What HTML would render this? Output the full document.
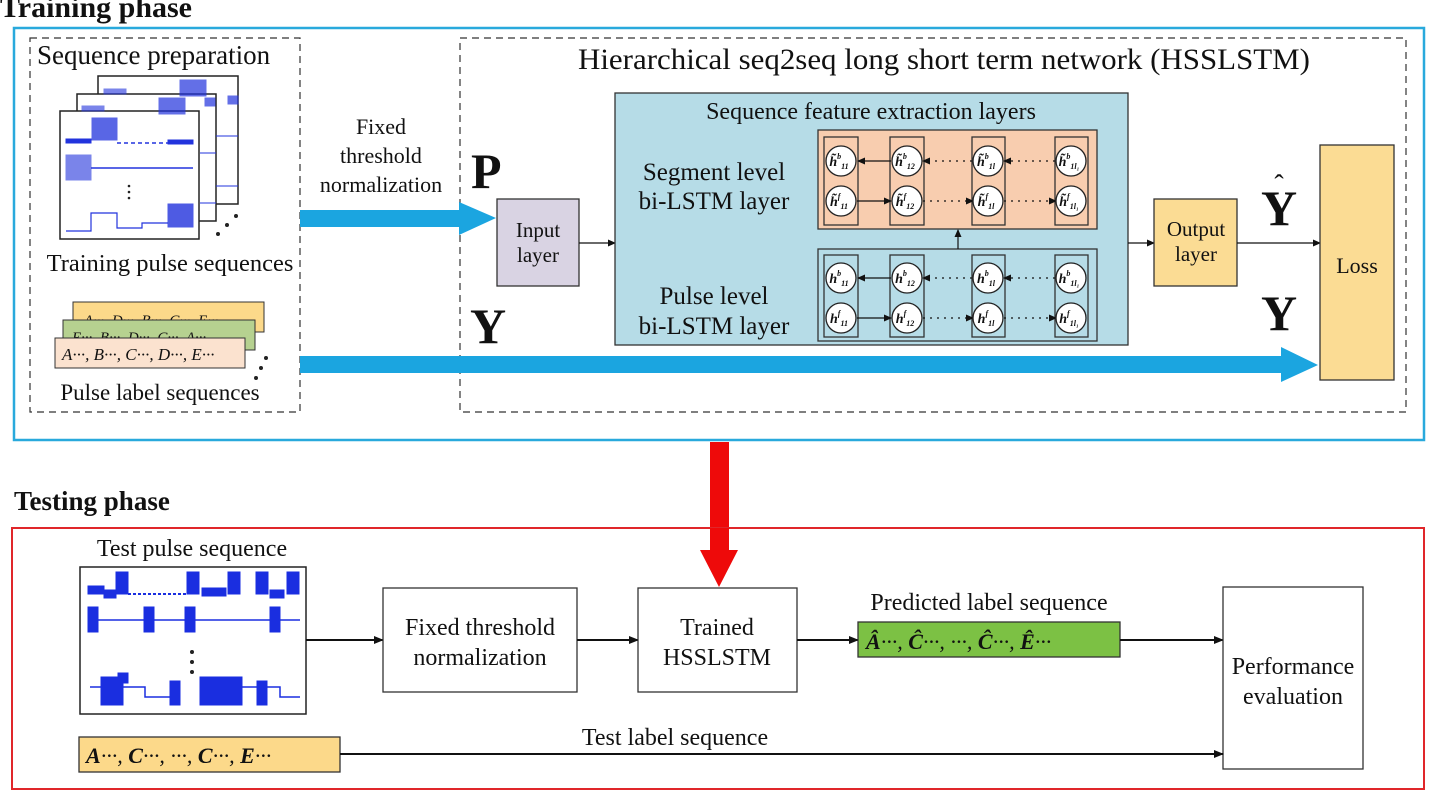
<!DOCTYPE html>
<html><head><meta charset="utf-8"><style>
html,body{margin:0;padding:0;background:#fff;width:1432px;height:796px;overflow:hidden}
svg{display:block}
text{font-family:"Liberation Serif",serif;fill:#111}
</style></head><body>
<svg width="1432" height="796" viewBox="0 0 1432 796" xmlns="http://www.w3.org/2000/svg">
<defs>
<marker id="ah" markerWidth="10" markerHeight="8" refX="9" refY="4" orient="auto" markerUnits="userSpaceOnUse"><path d="M0,0 L10,4 L0,8 z" fill="#111"/></marker>
<marker id="as" markerWidth="8" markerHeight="7" refX="7" refY="3.5" orient="auto" markerUnits="userSpaceOnUse"><path d="M0,0 L8,3.5 L0,7 z" fill="#111"/></marker>
</defs>

<!-- Training phase -->
<text x="0" y="17" font-size="30" font-weight="bold">Training phase</text>
<rect x="14" y="28" width="1410" height="412" fill="none" stroke="#29a9dc" stroke-width="2.5"/>
<rect x="30" y="38" width="270" height="374" fill="none" stroke="#333" stroke-width="1.2" stroke-dasharray="7,5"/>
<rect x="460" y="38" width="946" height="374" fill="none" stroke="#333" stroke-width="1.2" stroke-dasharray="7,5"/>
<text x="37" y="64" font-size="27">Sequence preparation</text>
<text x="944" y="69" font-size="30" text-anchor="middle" textLength="732" lengthAdjust="spacingAndGlyphs">Hierarchical seq2seq long short  term network (HSSLSTM)</text>

<!-- stacked pulse panels -->
<g stroke="#222" stroke-width="1.5" fill="#fff">
<rect x="98" y="76" width="140" height="128"/>
<rect x="77" y="94" width="139" height="127"/>
<rect x="60" y="111" width="139" height="128"/>
</g>
<g fill="#2233dd" stroke="#2233dd">
<rect x="180" y="80" width="26" height="16" opacity=".7"/>
<rect x="159" y="98" width="26" height="16" opacity=".7"/>
<rect x="205" y="98" width="10" height="8" opacity=".7"/>
<rect x="228" y="96" width="10" height="8" opacity=".7"/>
<rect x="82" y="106" width="22" height="5" opacity=".6"/>
<rect x="104" y="89" width="22" height="5" opacity=".6"/>
<line x1="216" y1="136" x2="238" y2="136" stroke-width="1"/>
<line x1="200" y1="153" x2="216" y2="153" stroke-width="1"/>
<line x1="216" y1="186" x2="238" y2="186" stroke-width="1"/>
<line x1="200" y1="203" x2="216" y2="203" stroke-width="1"/>
<rect x="92" y="118" width="25" height="22" opacity=".75"/>
<rect x="66" y="139" width="25" height="4"/>
<line x1="117" y1="143" x2="193" y2="143" stroke-width="1.5" stroke-dasharray="4,3"/>
<rect x="168" y="140" width="25" height="4"/>
<rect x="66" y="155" width="25" height="25" opacity=".6"/>
<line x1="91" y1="168" x2="193" y2="168" stroke-width="1.5"/>
<rect x="168" y="204" width="25" height="23" opacity=".8"/>
<path d="M66,231 H91 V213 H117 V228 H142 V223 H168" fill="none" stroke-width="1.2"/>
</g>
<g fill="#222"><circle cx="129" cy="186" r="1.3"/><circle cx="129" cy="192" r="1.3"/><circle cx="129" cy="198" r="1.3"/>
<circle cx="218" cy="234" r="2"/><circle cx="227" cy="225" r="2"/><circle cx="236" cy="216" r="2"/></g>
<text x="170" y="271" font-size="24.5" text-anchor="middle">Training pulse sequences</text>

<!-- label cards -->
<rect x="73" y="302" width="191" height="30" fill="#fcd98a" stroke="#333"/>
<text x="84" y="325" font-size="15" font-style="italic" fill="#333">A···, D···, B···, C···, E···</text>
<rect x="63" y="320" width="192" height="30" fill="#b6d190" stroke="#333"/>
<text x="72" y="342" font-size="15" font-style="italic" fill="#333">E···, B···, D···, C···, A···</text>
<rect x="55" y="338" width="190" height="30" fill="#fbe2cf" stroke="#333"/>
<text x="62" y="360" font-size="17" font-style="italic">A···, B···, C···, D···, E···</text>
<g fill="#222"><circle cx="256" cy="378" r="2"/><circle cx="261" cy="368" r="2"/><circle cx="266" cy="358" r="2"/></g>
<text x="160" y="400" font-size="23" text-anchor="middle">Pulse label sequences</text>

<!-- Fixed threshold label -->
<g font-size="22" text-anchor="middle"><text x="381" y="134">Fixed</text><text x="381" y="163">threshold</text><text x="381" y="192">normalization</text></g>

<!-- blue arrows -->
<path d="M300,210 H459 V202 L496,218 L459,235 V227 H300 z" fill="#1ba5e0"/>
<path d="M300,356 H1281 V347 L1318,365 L1281,382 V373 H300 z" fill="#1ba5e0"/>

<text x="471" y="188" font-size="50" font-weight="bold">P</text>
<text x="470" y="343" font-size="50" font-weight="bold">Y</text>

<!-- input layer -->
<rect x="497" y="199" width="82" height="87" fill="#d9d3e3" stroke="#333" stroke-width="1.3"/>
<text x="538" y="237" font-size="21" text-anchor="middle">Input</text>
<text x="538" y="262" font-size="21" text-anchor="middle">layer</text>
<line x1="579" y1="243" x2="615" y2="243" stroke="#111" stroke-width="1.2" marker-end="url(#as)"/>

<!-- big feature box -->
<rect x="615" y="93" width="513" height="252" fill="#b6dce7" stroke="#333" stroke-width="1.3"/>
<text x="871" y="119" font-size="24" text-anchor="middle">Sequence feature extraction layers</text>
<g font-size="25" text-anchor="middle"><text x="714" y="180">Segment level</text><text x="714" y="209">bi-LSTM layer</text>
<text x="714" y="304">Pulse level</text><text x="714" y="334">bi-LSTM layer</text></g>

<rect x="818" y="130" width="279" height="99" fill="#f8cdaf" stroke="#333" stroke-width="1.3"/>
<rect x="818" y="249" width="279" height="92" fill="#b6dce7" stroke="#333" stroke-width="1.3"/>
<line x1="958" y1="249" x2="958" y2="230" stroke="#111" stroke-width="1.2" marker-end="url(#as)"/>

<g stroke="#333" stroke-width="1.3" fill="none">
<rect x="824" y="137" width="34" height="88"/><rect x="890" y="137" width="34" height="88"/><rect x="972" y="137" width="33" height="88"/><rect x="1055" y="137" width="33" height="88"/>
<rect x="824" y="255" width="34" height="82"/><rect x="890" y="255" width="34" height="82"/><rect x="972" y="255" width="33" height="82"/><rect x="1055" y="255" width="33" height="82"/>
</g>
<g stroke="#111" stroke-width="1.3" fill="none">
<line x1="891" y1="161" x2="858" y2="161" marker-end="url(#as)"/>
<line x1="972" y1="161" x2="923" y2="161" stroke-dasharray="2,5" marker-end="url(#as)"/>
<line x1="1055" y1="161" x2="1004" y2="161" stroke-dasharray="2,5" marker-end="url(#as)"/>
<line x1="857" y1="201" x2="891" y2="201" marker-end="url(#as)"/>
<line x1="923" y1="201" x2="973" y2="201" stroke-dasharray="2,5" marker-end="url(#as)"/>
<line x1="1004" y1="201" x2="1056" y2="201" stroke-dasharray="2,5" marker-end="url(#as)"/>
<line x1="891" y1="278" x2="858" y2="278" marker-end="url(#as)"/>
<line x1="972" y1="278" x2="923" y2="278" stroke-dasharray="2,5" marker-end="url(#as)"/>
<line x1="1055" y1="278" x2="1004" y2="278" stroke-dasharray="2,5" marker-end="url(#as)"/>
<line x1="857" y1="318" x2="891" y2="318" marker-end="url(#as)"/>
<line x1="923" y1="318" x2="973" y2="318" stroke-dasharray="2,5" marker-end="url(#as)"/>
<line x1="1004" y1="318" x2="1056" y2="318" stroke-dasharray="2,5" marker-end="url(#as)"/>
</g>
<g fill="#fff" stroke="#222" stroke-width="1.3">
<circle cx="841" cy="161" r="15"/><circle cx="907" cy="161" r="15"/><circle cx="988" cy="161" r="15"/><circle cx="1071" cy="161" r="15"/>
<circle cx="841" cy="201" r="15"/><circle cx="907" cy="201" r="15"/><circle cx="988" cy="201" r="15"/><circle cx="1071" cy="201" r="15"/>
<circle cx="841" cy="278" r="15"/><circle cx="907" cy="278" r="15"/><circle cx="988" cy="278" r="15"/><circle cx="1071" cy="278" r="15"/>
<circle cx="841" cy="318" r="15"/><circle cx="907" cy="318" r="15"/><circle cx="988" cy="318" r="15"/><circle cx="1071" cy="318" r="15"/>
</g>
<g font-size="14" font-weight="bold" font-style="italic" text-anchor="middle">
<text x="839" y="166">h̃<tspan font-size="8" dy="-7">b</tspan><tspan font-size="8" dy="10">11</tspan></text>
<text x="905" y="166">h̃<tspan font-size="8" dy="-7">b</tspan><tspan font-size="8" dy="10">12</tspan></text>
<text x="986" y="166">h̃<tspan font-size="8" dy="-7">b</tspan><tspan font-size="8" dy="10">1l</tspan></text>
<text x="1069" y="166">h̃<tspan font-size="8" dy="-7">b</tspan><tspan font-size="8" dy="10">1l₁</tspan></text>
<text x="839" y="206">h̃<tspan font-size="8" dy="-7">f</tspan><tspan font-size="8" dy="10">11</tspan></text>
<text x="905" y="206">h̃<tspan font-size="8" dy="-7">f</tspan><tspan font-size="8" dy="10">12</tspan></text>
<text x="986" y="206">h̃<tspan font-size="8" dy="-7">f</tspan><tspan font-size="8" dy="10">1l</tspan></text>
<text x="1069" y="206">h̃<tspan font-size="8" dy="-7">f</tspan><tspan font-size="8" dy="10">1l₁</tspan></text>
<text x="839" y="283">h<tspan font-size="8" dy="-7">b</tspan><tspan font-size="8" dy="10">11</tspan></text>
<text x="905" y="283">h<tspan font-size="8" dy="-7">b</tspan><tspan font-size="8" dy="10">12</tspan></text>
<text x="986" y="283">h<tspan font-size="8" dy="-7">b</tspan><tspan font-size="8" dy="10">1l</tspan></text>
<text x="1069" y="283">h<tspan font-size="8" dy="-7">b</tspan><tspan font-size="8" dy="10">1l₁</tspan></text>
<text x="839" y="323">h<tspan font-size="8" dy="-7">f</tspan><tspan font-size="8" dy="10">11</tspan></text>
<text x="905" y="323">h<tspan font-size="8" dy="-7">f</tspan><tspan font-size="8" dy="10">12</tspan></text>
<text x="986" y="323">h<tspan font-size="8" dy="-7">f</tspan><tspan font-size="8" dy="10">1l</tspan></text>
<text x="1069" y="323">h<tspan font-size="8" dy="-7">f</tspan><tspan font-size="8" dy="10">1l₁</tspan></text>
</g>

<!-- output & loss -->
<line x1="1128" y1="243" x2="1154" y2="243" stroke="#111" stroke-width="1.2" marker-end="url(#as)"/>
<rect x="1154" y="199" width="83" height="87" fill="#fbdc94" stroke="#333" stroke-width="1.3"/>
<text x="1196" y="236" font-size="21" text-anchor="middle">Output</text>
<text x="1196" y="261" font-size="21" text-anchor="middle">layer</text>
<line x1="1237" y1="243" x2="1320" y2="243" stroke="#111" stroke-width="1.2" marker-end="url(#as)"/>
<rect x="1320" y="145" width="74" height="235" fill="#fbdc94" stroke="#333" stroke-width="1.3"/>
<text x="1357" y="273" font-size="22" text-anchor="middle">Loss</text>
<text x="1279" y="225" font-size="50" font-weight="bold" text-anchor="middle">Y</text>
<text x="1279" y="194" font-size="28" text-anchor="middle">ˆ</text>
<text x="1279" y="330" font-size="50" font-weight="bold" text-anchor="middle">Y</text>

<!-- red arrow -->
<path d="M710,442 H729 V550 H738 L719,587 L700,550 H710 z" fill="#ee0a0a"/>

<!-- Testing phase -->
<text x="14" y="510" font-size="27" font-weight="bold">Testing phase</text>
<rect x="12" y="528" width="1412" height="261" fill="none" stroke="#e0262a" stroke-width="2"/>
<path d="M710,528 H729 V550 H710 z" fill="#ee0a0a"/>
<text x="192" y="556" font-size="24" text-anchor="middle">Test pulse sequence</text>
<rect x="80" y="567" width="226" height="147" fill="#fff" stroke="#222" stroke-width="1.5"/>
<g fill="#1a2ee0" stroke="#1a2ee0">
<rect x="116" y="572" width="12" height="22"/><rect x="187" y="572" width="12" height="22"/><rect x="228" y="572" width="12" height="22"/><rect x="256" y="572" width="12" height="22"/><rect x="287" y="572" width="12" height="22"/>
<rect x="88" y="586" width="16" height="8"/><rect x="104" y="590" width="12" height="8"/><rect x="202" y="588" width="24" height="8"/><rect x="270" y="590" width="14" height="8"/>
<line x1="128" y1="594" x2="187" y2="594" stroke-width="2" stroke-dasharray="3,2"/>
<rect x="88" y="607" width="10" height="25"/><rect x="144" y="607" width="10" height="25"/><rect x="185" y="607" width="10" height="25"/><rect x="270" y="607" width="10" height="25"/>
<line x1="98" y1="620" x2="300" y2="620" stroke-width="1.5"/>
<rect x="101" y="677" width="22" height="28"/><rect x="118" y="673" width="10" height="10"/><rect x="170" y="681" width="10" height="24"/><rect x="200" y="677" width="42" height="28"/><rect x="257" y="681" width="10" height="24"/>
<path d="M90,687 H145 V697 H170 M242,687 H280 V697 H300" fill="none" stroke-width="1.5"/>
</g>
<g fill="#222"><circle cx="192" cy="652" r="2"/><circle cx="192" cy="662" r="2"/><circle cx="192" cy="672" r="2"/></g>

<line x1="306" y1="640" x2="383" y2="640" stroke="#111" stroke-width="2" marker-end="url(#ah)"/>
<rect x="383" y="588" width="194" height="104" fill="#fff" stroke="#333" stroke-width="1.3"/>
<text x="480" y="635" font-size="24" text-anchor="middle">Fixed threshold</text>
<text x="480" y="665" font-size="24" text-anchor="middle">normalization</text>
<line x1="577" y1="640" x2="638" y2="640" stroke="#111" stroke-width="2" marker-end="url(#ah)"/>
<rect x="638" y="588" width="159" height="104" fill="#fff" stroke="#333" stroke-width="1.3"/>
<text x="717" y="635" font-size="24" text-anchor="middle">Trained</text>
<text x="717" y="665" font-size="24" text-anchor="middle">HSSLSTM</text>
<line x1="797" y1="640" x2="858" y2="640" stroke="#111" stroke-width="2" marker-end="url(#ah)"/>
<text x="989" y="610" font-size="24" text-anchor="middle">Predicted label sequence</text>
<rect x="858" y="622" width="262" height="35" fill="#7cc144" stroke="#333" stroke-width="1.3"/>
<text x="866" y="649" font-size="22" font-style="italic" font-weight="bold">Â<tspan font-weight="normal">···, </tspan>Ĉ<tspan font-weight="normal">···, ···, </tspan>Ĉ<tspan font-weight="normal">···, </tspan>Ê<tspan font-weight="normal">···</tspan></text>
<line x1="1120" y1="640" x2="1223" y2="640" stroke="#111" stroke-width="2" marker-end="url(#ah)"/>
<rect x="1223" y="587" width="140" height="182" fill="#fff" stroke="#333" stroke-width="1.3"/>
<text x="1293" y="674" font-size="24" text-anchor="middle">Performance</text>
<text x="1293" y="704" font-size="24" text-anchor="middle">evaluation</text>

<rect x="79" y="737" width="261" height="35" fill="#fcd98a" stroke="#333" stroke-width="1.3"/>
<text x="86" y="763" font-size="22" font-style="italic" font-weight="bold">A<tspan font-weight="normal">···, </tspan>C<tspan font-weight="normal">···, ···, </tspan>C<tspan font-weight="normal">···, </tspan>E<tspan font-weight="normal">···</tspan></text>
<line x1="340" y1="754" x2="1223" y2="754" stroke="#111" stroke-width="2" marker-end="url(#ah)"/>
<text x="675" y="745" font-size="24" text-anchor="middle">Test label sequence</text>
</svg>
</body></html>
